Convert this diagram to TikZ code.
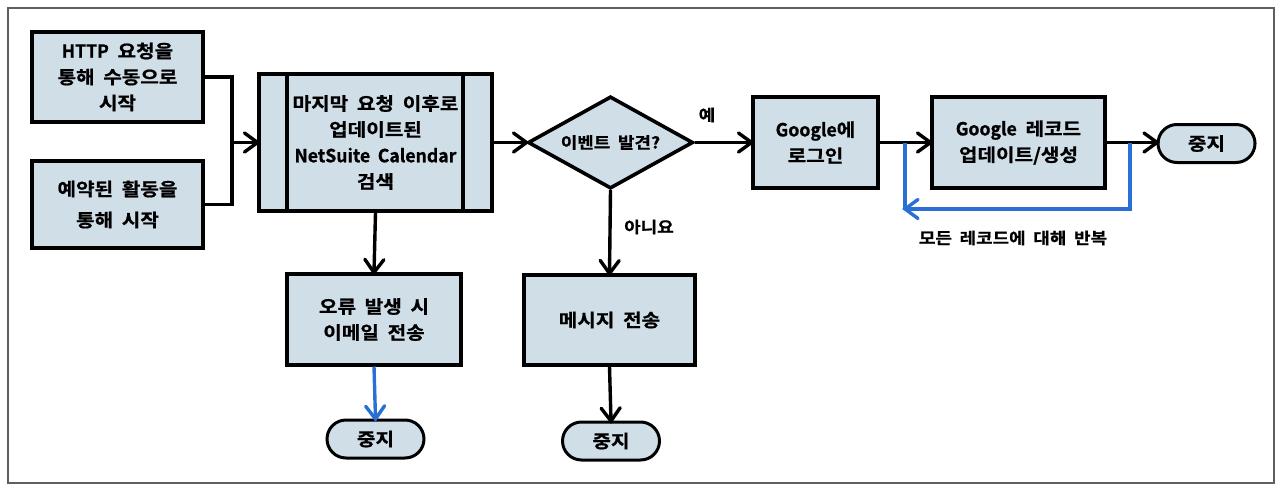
\documentclass[tikz,border=0pt]{standalone}
\usepackage{fontspec}
\setmainfont{Noto Sans CJK KR}[BoldFont={Noto Sans CJK KR Bold}, BoldFeatures={FakeBold=0.8}, WordSpace=1.9, FakeStretch=1.12]
\newfontfamily\lat{Noto Sans CJK KR}[BoldFont={Noto Sans CJK KR Bold}, BoldFeatures={FakeBold=0.8}, WordSpace=1.9, FakeStretch=0.98]
\usetikzlibrary{arrows.meta,shapes.geometric,decorations.markings}
\definecolor{boxfill}{RGB}{208,222,232}
\definecolor{loopblue}{RGB}{42,112,212}
\definecolor{framegray}{RGB}{95,95,95}
\begin{document}
\begin{tikzpicture}[x=1pt,y=-1pt,
  every node/.style={font=\fontsize{18}{26}\selectfont\bfseries, align=center, inner sep=0pt, outer sep=0pt},
  proc/.style={draw, line width=4.2pt, fill=boxfill, outer sep=1.5pt},
  pill/.style={draw, line width=3pt, fill=boxfill, rounded corners=19pt, minimum width=97pt, minimum height=38pt, outer sep=1pt},
  lbl/.style={font=\fontsize{16}{22}\selectfont\bfseries},
  tipb/.style={postaction={decorate}, decoration={markings, mark=at position 1 with {\draw[#1, line width=3.4pt, line cap=round, line join=miter] (-13pt,-9.5pt) -- (0pt,0pt) -- (-13pt,9.5pt);}}},
  tipb/.default=black,
  flow/.style={draw=#1, line width=3.4pt, tipb=#1},
  flow/.default=black,
  plain/.style={line width=3.4pt}]
\useasboundingbox (0,0) rectangle (1281,487);
\draw[framegray, line width=1.5pt] (8,8) rectangle (1274,483);

% left start boxes
\node[proc, minimum width=171pt, minimum height=90pt] (b1) at (117.5,77) {{\lat HTTP} 요청을\\통해 수동으로\\시작};
\node[proc, minimum width=171pt, minimum height=87pt, font=\fontsize{18}{31}\selectfont\bfseries] (b2) at (117.5,204.5) {예약된 활동을\\통해 시작};

% predefined process
\node[proc, minimum width=233pt, minimum height=137pt] (b3) at (375.5,142.5) {마지막 요청 이후로\\업데이트된\\{\lat NetSuite Calendar}\\검색};
\draw[line width=4.2pt] ([xshift=29.5pt,yshift=-1.5pt]b3.north west) -- ([xshift=29.5pt,yshift=1.5pt]b3.south west);
\draw[line width=4.2pt] ([xshift=-30.5pt,yshift=-1.5pt]b3.north east) -- ([xshift=-30.5pt,yshift=1.5pt]b3.south east);

% decision
\node[proc, diamond, line width=3.6pt, minimum width=165pt, minimum height=92pt] (d) at (610.5,142.5) {};
\node[lbl] (dt) at (d.center) {이벤트 발견?};

% google boxes
\node[proc, minimum width=125pt, minimum height=91pt] (g1) at (815.5,142.5) {{\lat Google}에\\로그인};
\node[proc, minimum width=173pt, minimum height=91pt] (g2) at (1018.5,142.5) {{\lat Google} 레코드\\업데이트/생성};
\node[pill] (s1) at (1206.5,143.5) {중지};

% lower boxes
\node[proc, minimum width=174pt, minimum height=91pt] (e) at (374,319.5) {오류 발생 시\\이메일 전송};
\node[proc, minimum width=171pt, minimum height=90pt] (m) at (609.5,320) {메시지 전송};
\node[pill] (s2) at (375.5,439) {중지};
\node[pill] (s3) at (611,441) {중지};

% connectors
\coordinate (j) at (232,142.5);
\draw[plain] (b1.east) -| (j);
\draw[plain] (b2.east) -| (j);
\draw[flow] (j) -- (b3.west);
\draw[flow] (b3.east) -- (d.west);
\draw[flow] (d.east) -- (g1.west);
\node[lbl] (yes) at (707,115) {예};
\draw[flow] (g1.east) -- (g2.west);
\draw[flow] (g2.east) -- (s1.west |- g2.east);
\draw[flow] (b3.south) -- (e.north);
\draw[flow=loopblue] (e.south) -- (s2.north);
\draw[flow] (d.south) -- (m.north);
\node[lbl] (no) at (649,227) {아니요};
\draw[flow] (m.south) -- (s3.north);

% loop
\coordinate (lr) at (1130,142.5);
\coordinate (lb) at (1130,209);
\coordinate (ll) at (905,209);
\coordinate (lt) at (905,142.5);
\draw[flow=loopblue] (lr) -- (lb) -- (ll);
\draw[line width=3.4pt, loopblue] (ll) -- (lt);
\node[lbl] (looplbl) at (1013,238) {모든 레코드에 대해 반복};
\end{tikzpicture}
\end{document}
